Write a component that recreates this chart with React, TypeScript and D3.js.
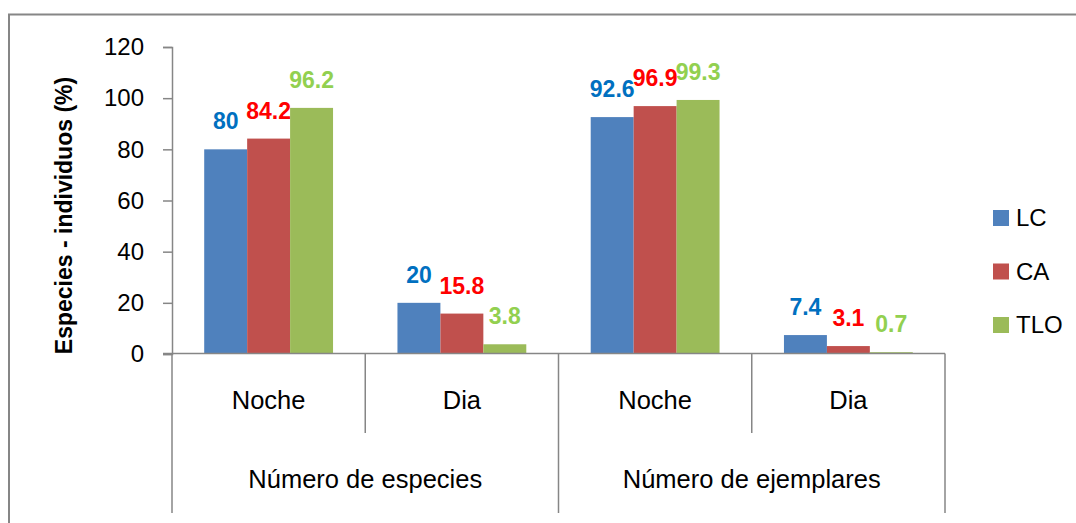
import React, { useEffect, useRef } from 'react';
import * as d3 from 'd3';

const groups = ['Número de especies', 'Número de ejemplares'];
const periods = ['Noche', 'Dia'];
const seriesNames = ['LC', 'CA', 'TLO'];
const lcValues = [80, 20, 92.6, 7.4];
const caValues = [84.2, 15.8, 96.9, 3.1];
const tloValues = [96.2, 3.8, 99.3, 0.7];
const yTicks = [0, 20, 40, 60, 80, 100, 120];

const barColors = ['#4F81BD', '#C0504D', '#9BBB59'];
const labelColors = ['#0070C0', '#FF0000', '#92D050'];

const App = () => {
    const svgRef = useRef<SVGSVGElement>(null);

    useEffect(() => {
        const svg = d3.select(svgRef.current);
        svg.selectAll('*').remove();

        const width = 1076;
        const height = 523;
        const font = '"Liberation Sans", Arial, sans-serif';
        const axisColor = '#868686';

        const left = 172;
        const right = 945;
        const top = 47;
        const bottom = 354;

        const categories = groups.flatMap(g => periods.map(p => `${g}|${p}`));
        const seriesData = [lcValues, caValues, tloValues];

        // chart border
        svg.append('rect')
            .attr('x', 9).attr('y', 14.5)
            .attr('width', width + 10).attr('height', height)
            .attr('fill', 'white')
            .attr('stroke', axisColor)
            .attr('stroke-width', 2);

        const x0 = d3.scaleBand()
            .domain(categories)
            .range([left, right])
            .padding(0);

        const x1 = d3.scaleBand()
            .domain(seriesNames)
            .range([0, x0.bandwidth()])
            .paddingInner(0)
            .paddingOuter(0.75);

        const y = d3.scaleLinear()
            .domain([0, 120])
            .range([bottom, top]);

        // y axis
        const yAxis = svg.append('g')
            .attr('transform', `translate(${left},0)`)
            .call(d3.axisLeft(y).tickValues(yTicks).tickSize(9).tickPadding(19));
        yAxis.select('.domain').attr('stroke', axisColor).attr('stroke-width', 1.5);
        yAxis.selectAll('.tick line').attr('stroke', axisColor).attr('stroke-width', 1.5);
        yAxis.selectAll('.tick text')
            .attr('font-family', font)
            .attr('font-size', 24)
            .attr('fill', '#000');

        // bars
        seriesNames.forEach((s, si) => {
            svg.append('g')
                .selectAll('rect')
                .data(seriesData[si])
                .enter()
                .append('rect')
                .attr('x', (d, i) => (x0(categories[i]) as number) + (x1(s) as number))
                .attr('y', d => y(d))
                .attr('width', x1.bandwidth())
                .attr('height', d => y(0) - y(d))
                .attr('fill', barColors[si]);

            svg.append('g')
                .selectAll('text')
                .data(seriesData[si])
                .enter()
                .append('text')
                .attr('x', (d, i) => (x0(categories[i]) as number) + (x1(s) as number) + x1.bandwidth() / 2)
                .attr('y', d => y(d) - 20)
                .attr('text-anchor', 'middle')
                .attr('font-family', font)
                .attr('font-weight', 'bold')
                .attr('font-size', 23)
                .attr('fill', labelColors[si])
                .text(d => String(d));
        });

        // x axis line
        svg.append('line')
            .attr('x1', 163).attr('x2', right)
            .attr('y1', bottom - 0.5).attr('y2', bottom - 0.5)
            .attr('stroke', axisColor).attr('stroke-width', 1.5);

        // category dividers
        const boundaries = categories.map(c => x0(c) as number).concat([right]);
        boundaries.forEach((bx, i) => {
            const outer = i % 2 === 0;
            svg.append('line')
                .attr('x1', bx).attr('x2', bx)
                .attr('y1', bottom - 0.5)
                .attr('y2', outer ? 513 : 433)
                .attr('stroke', axisColor)
                .attr('stroke-width', 1.5);
        });

        // period labels
        svg.append('g')
            .selectAll('text')
            .data(categories)
            .enter()
            .append('text')
            .attr('x', d => (x0(d) as number) + x0.bandwidth() / 2)
            .attr('y', 409)
            .attr('text-anchor', 'middle')
            .attr('font-family', font)
            .attr('font-size', 25.5)
            .text(d => d.split('|')[1]);

        // group labels
        svg.append('g')
            .selectAll('text')
            .data(groups)
            .enter()
            .append('text')
            .attr('x', (d, i) => (x0(categories[i * 2]) as number) + x0.bandwidth())
            .attr('y', 488)
            .attr('text-anchor', 'middle')
            .attr('font-family', font)
            .attr('font-size', 25.5)
            .text(d => d);

        // y title
        svg.append('text')
            .attr('transform', `translate(72,${(top + bottom) / 2 + 15}) rotate(-90)`)
            .attr('text-anchor', 'middle')
            .attr('font-family', font)
            .attr('font-weight', 'bold')
            .attr('font-size', 23)
            .text('Especies - individuos (%)');

        // legend
        const legendY = d3.scalePoint()
            .domain(seriesNames)
            .range([218, 325]);

        const legend = svg.append('g')
            .selectAll('g')
            .data(seriesNames)
            .enter()
            .append('g')
            .attr('transform', d => `translate(993,${legendY(d)})`);

        legend.append('rect')
            .attr('x', 0).attr('y', -8)
            .attr('width', 16).attr('height', 16)
            .attr('fill', (d, i) => barColors[i]);

        legend.append('text')
            .attr('x', 23)
            .attr('y', 0)
            .attr('dy', '0.35em')
            .attr('font-family', font)
            .attr('font-size', 24)
            .text(d => d);
    }, []);

    return (
        <svg
            ref={svgRef}
            width={1076}
            height={523}
            style={{ position: 'absolute', left: 0, top: 0, background: 'white' }}
        ></svg>
    );
};

export default App;
